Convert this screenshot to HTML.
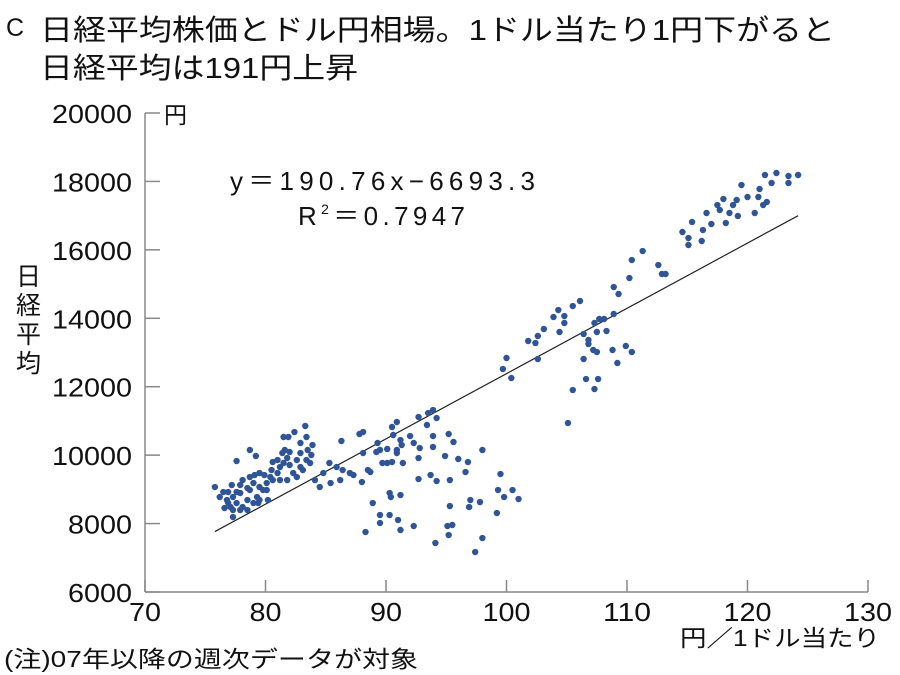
<!DOCTYPE html>
<html><head><meta charset="utf-8"><style>
body{margin:0;background:#fff;}
svg{display:block;font-family:"Liberation Sans","Noto Sans CJK JP",sans-serif;}
</style></head><body>
<svg width="900" height="675" viewBox="0 0 900 675">
<g id="title" font-size="29" fill="#111">
<text x="6" y="36" font-size="25">C</text>
<text x="40" y="40" textLength="795" lengthAdjust="spacingAndGlyphs">日経平均株価とドル円相場。1ドル当たり1円下がると</text>
<text x="40" y="78" textLength="318" lengthAdjust="spacingAndGlyphs">日経平均は191円上昇</text>
</g>
<g id="axes"></g>
<g id="pts"></g>
<text x="230" y="190" font-size="26" textLength="305" lengthAdjust="spacing" fill="#111">y＝190.76x−6693.3</text>
<text x="298" y="225" font-size="26" textLength="167" lengthAdjust="spacing" fill="#111">R<tspan font-size="14" dy="-11">2</tspan><tspan dy="11">＝0.7947</tspan></text>
<text x="164" y="123" font-size="23" fill="#111">円</text>
<g font-size="25" fill="#111">
<text x="16" y="285">日</text><text x="16" y="314">経</text><text x="16" y="343">平</text><text x="16" y="372">均</text>
</g>
<text x="680" y="646" font-size="23" textLength="200" lengthAdjust="spacingAndGlyphs" fill="#111">円／1ドル当たり</text>
<text x="4" y="667" font-size="23" textLength="414" lengthAdjust="spacingAndGlyphs" fill="#111">(注)07年以降の週次データが対象</text>
</svg>
<script>
const xTicks=[70,80,90,100,110,120,130];
const yTicks=[6000,8000,10000,12000,14000,16000,18000,20000];
const slope=190.76, intercept=-6693.3, fitRange=[75.8,124.2];
const xs=[121.45,122.4,123.4,124.2,122.0,123.4,119.5,121.0,120.9,121.6,121.3,120.0,119.1,118.8,118.0,117.5,117.7,118.5,119.2,120.6,116.6,117.0,118.2,115.4,116.3,114.6,115.1,115.1,116.2,111.3,110.4,110.2,112.6,112.9,113.2,108.9,109.3,106.1,105.5,104.3,103.9,104.8,104.8,104.4,103.1,102.6,101.8,102.4,102.6,100.0,99.7,100.4,107.3,107.7,108.1,108.9,106.4,107.5,108.3,106.8,106.8,107.2,107.5,108.8,109.9,110.4,106.4,109.2,106.6,107.6,107.3,105.5,105.1,
75.8,77.6,78.7,79.2,77.3,76.5,76.8,77.1,76.6,77.3,77.6,77.9,78.1,78.5,78.7,79.0,79.3,79.4,79.5,79.8,80.1,80.4,80.5,80.6,81.0,81.2,81.5,81.4,81.6,81.5,81.9,82.4,82.9,83.3,83.4,82.0,82.9,83.5,83.9,83.8,83.4,82.9,82.3,81.8,81.2,81.0,80.6,83.7,83.1,82.6,80.1,79.5,79.0,78.5,77.9,77.3,76.2,76.9,77.2,78.1,78.7,79.1,79.5,79.9,77.9,78.5,80.2,76.9,77.6,82.0,82.6,81.8,
84.1,84.5,84.8,85.4,85.3,85.9,86.2,86.3,86.4,87.0,87.3,87.8,88.1,88.0,88.5,88.7,88.1,88.9,88.3,89.5,89.5,90.3,90.4,91.2,90.3,91.0,91.2,92.3,89.2,89.5,90.1,89.7,90.1,90.5,89.3,90.5,90.9,90.6,91.2,91.3,90.9,91.4,90.9,92.0,92.3,92.7,93.5,93.9,93.4,93.9,94.2,92.8,92.7,93.9,94.9,95.2,95.6,96.0,96.8,96.6,98.0,92.7,93.7,94.2,95.3,99.5,99.3,99.8,100.5,101.0,97.0,97.8,99.2,96.9,95.3,95.1,95.5,95.2,94.1,98.0,97.4];
const ys=[18188,18246,18159,18188,17954,17954,17895,17779,17545,17400,17310,17545,17457,17310,17486,17310,17165,17077,16990,17077,17077,16756,16785,16815,16580,16522,16346,16142,16259,15966,15703,15177,15557,15294,15294,14914,14710,14505,14358,14241,14037,14066,13862,13599,13687,13482,13336,13277,12810,12839,12517,12254,13862,13979,13979,14125,13540,13599,13628,13365,13248,13073,13014,13073,13190,13014,12810,12693,12225,12225,11932,11903,10939,
9068,9828,10150,9974,8191,8922,8688,8483,8454,8776,8600,8893,8483,8688,8980,9185,8776,8600,9068,8980,9185,9360,9565,9799,9857,9653,9770,10062,10150,10530,10530,10676,10355,10852,10530,10092,10062,10150,10296,10004,9857,9653,9477,9272,9272,9477,9272,9770,9565,9360,8980,8688,8600,8396,8396,8396,8776,8922,9126,9272,9360,9419,9477,9419,9126,9039,8688,8600,8922,9712,9857,9916,
9272,9068,9477,9185,9770,9653,9272,10413,9565,9477,9419,10618,10676,9214,9565,9506,10062,8600,7753,8250,8016,8893,8776,8834,8250,8104,7812,7928,10092,10150,10180,9770,9770,9799,10355,10823,10969,10589,10442,10296,10150,9770,10062,10559,10355,11114,11231,11319,10881,10559,11085,10208,9916,10238,9974,10618,10384,9887,9799,9506,10150,9302,9419,9243,9272,9448,8980,8776,8980,8717,8688,8629,8308,8483,8512,7928,7958,7665,7431,7577,7168];
const NS='http://www.w3.org/2000/svg';
const X0=145,X1=868,Y0=592,Y1=113;
const sx=v=>X0+(v-70)/60*(X1-X0);
const sy=v=>Y0-(v-6000)/14000*(Y0-Y1);
function mk(t,a,p){const e=document.createElementNS(NS,t);for(const k in a)e.setAttribute(k,a[k]);p.appendChild(e);return e;}
const ax=document.getElementById('axes');
const yl=mk('line',{x1:X0,y1:Y1,x2:X0,y2:Y0,stroke:'#888','stroke-width':1.5},ax);


const xl=mk('line',{x1:X0,y1:Y0,x2:X1,y2:Y0,stroke:'#888','stroke-width':1.5},ax);


yTicks.forEach(v=>{
 const l=mk('line',{x1:X0,y1:sy(v),x2:X0+15,y2:sy(v),stroke:'#888','stroke-width':1.5},ax);
 
 
 const s=String(v);
 const t=mk('text',{x:132,y:sy(v)+10,'text-anchor':'end','font-size':26,fill:'#111',textLength:s.length*16,lengthAdjust:'spacingAndGlyphs'},ax);
 t.textContent=s;
 
 
});
xTicks.forEach(v=>{
 const l=mk('line',{x1:sx(v),y1:Y0,x2:sx(v),y2:Y0-12,stroke:'#888','stroke-width':1.5},ax);
 
 
 const s=String(v);
 const t=mk('text',{x:sx(v),y:621,'text-anchor':'middle','font-size':26,fill:'#111',textLength:s.length*16,lengthAdjust:'spacingAndGlyphs'},ax);
 t.textContent=s;
 
 
});
const pg=document.getElementById('pts');
const fl=mk('line',{x1:sx(fitRange[0]),y1:sy(slope*fitRange[0]+intercept),x2:sx(fitRange[1]),y2:sy(slope*fitRange[1]+intercept),stroke:'#222','stroke-width':1.2},pg);


xs.forEach((x,i)=>{
 const c=mk('circle',{cx:sx(x),cy:sy(ys[i]),r:3.2,fill:'#2f5596'},pg);
 
 
});
</script>
</body></html>
